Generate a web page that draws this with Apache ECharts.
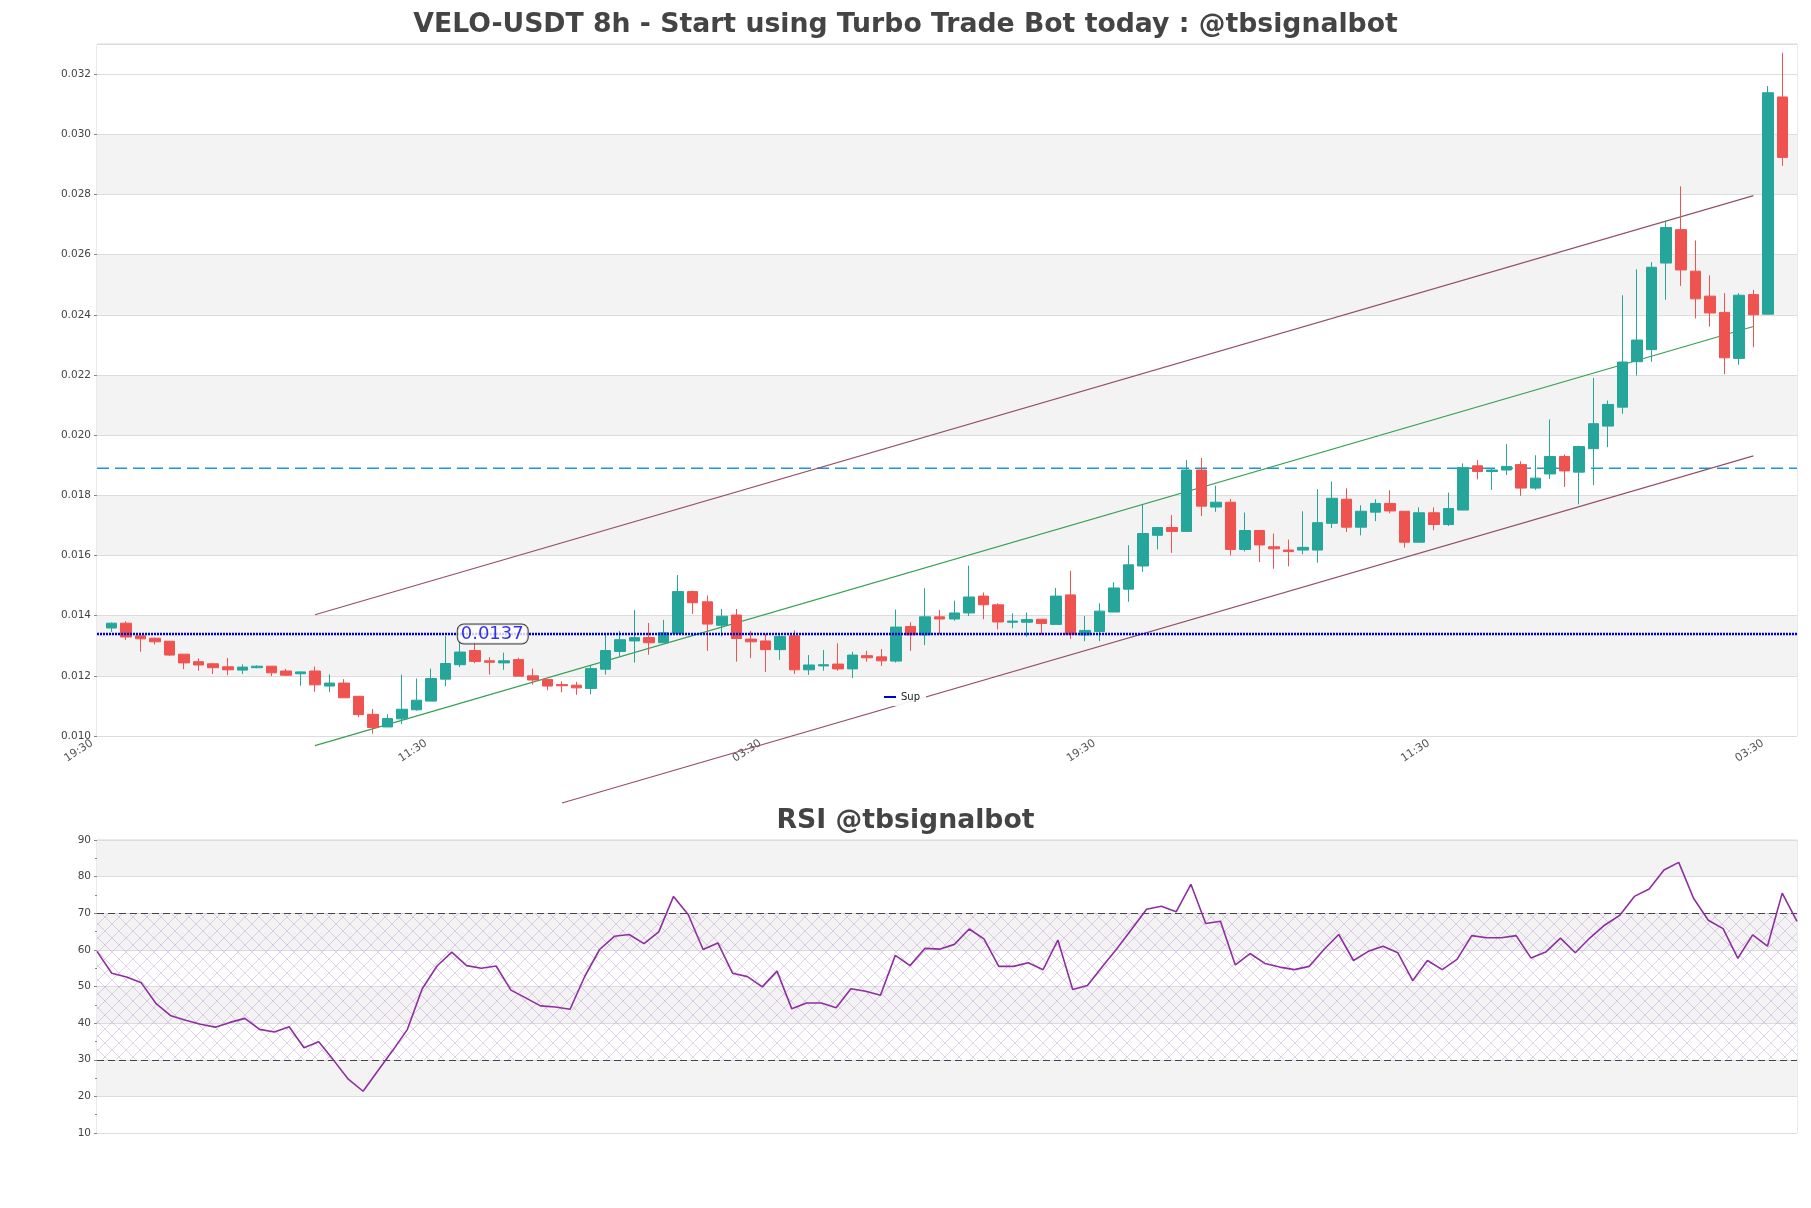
<!DOCTYPE html>
<html><head><meta charset="utf-8">
<script src="https://cdn.jsdelivr.net/npm/echarts@6/dist/echarts.min.js"></script>
<style>html,body{margin:0;padding:0;background:#fff}#chart{width:1811px;height:1208px}</style>
</head><body><div id="chart"></div>
<script>
// ---- data ----
const tickLabels = ['19:30', '11:30', '03:30', '19:30', '11:30', '03:30'];
const tickStep = 23; // candles between labelled ticks (first tick one slot before first candle)

const opens = [0.01359,0.01375,0.01333,0.01325,0.01315,0.01272,0.01247,0.0124,0.0123,0.01219,
0.01227,0.01232,0.01216,0.01207,0.01216,0.01166,0.01176,0.01132,0.01072,0.0103,
0.01057,0.01087,0.01116,0.01189,0.01237,0.01284,0.0125,0.01243,0.01254,0.012,
0.01188,0.01171,0.01169,0.01158,0.01222,0.01281,0.01316,0.01327,0.0131,0.01341,
0.0148,0.01446,0.01368,0.01402,0.01322,0.01316,0.01287,0.01333,0.0122,0.01233,
0.01239,0.01223,0.01267,0.01263,0.01249,0.01364,0.01336,0.01396,0.01389,0.01409,
0.01465,0.01436,0.01378,0.01378,0.01388,0.01371,0.01469,0.01336,0.01347,0.01412,
0.01488,0.01565,0.01667,0.01693,0.0168,0.01884,0.01761,0.01777,0.0162,0.01683,
0.01629,0.01618,0.01618,0.01618,0.01707,0.01787,0.01694,0.01744,0.01773,0.01747,
0.01644,0.01742,0.01703,0.01751,0.01898,0.01879,0.01884,0.01902,0.01824,0.01871,
0.01929,0.01877,0.01955,0.0203,0.02093,0.02244,0.02284,0.02572,0.02683,0.02545,
0.02462,0.02408,0.02255,0.02467,0.02402,0.03124];
const closes = [0.01375,0.01329,0.01323,0.01313,0.01269,0.01243,0.01236,0.01227,0.0122,0.01229,
0.01232,0.0121,0.01202,0.01213,0.0117,0.01176,0.01127,0.01071,0.01028,0.01058,
0.01089,0.01119,0.01191,0.01241,0.01279,0.01248,0.01245,0.0125,0.01199,0.01186,
0.01166,0.01167,0.0116,0.01224,0.01284,0.0132,0.01327,0.0131,0.01343,0.0148,
0.01443,0.01372,0.01398,0.01324,0.01313,0.01287,0.01331,0.0122,0.01236,0.01237,
0.01223,0.01269,0.0126,0.0125,0.01362,0.01336,0.01396,0.01389,0.01409,0.01462,
0.01436,0.01379,0.01382,0.01387,0.01374,0.01465,0.01337,0.01351,0.01415,0.01492,
0.01569,0.01673,0.01693,0.0168,0.01884,0.01764,0.01777,0.0162,0.01683,0.01635,
0.01622,0.01613,0.01627,0.01709,0.0179,0.01694,0.01747,0.01773,0.01748,0.01644,
0.01742,0.01703,0.01756,0.01892,0.01879,0.01884,0.01896,0.01824,0.01857,0.01929,
0.01881,0.01962,0.02038,0.02102,0.02243,0.02316,0.02558,0.0269,0.02549,0.02453,
0.02406,0.02257,0.02465,0.024,0.03138,0.02923];
const lows = [0.01346,0.01319,0.0128,0.01304,0.01266,0.01222,0.01217,0.01206,0.01202,0.01206,
0.01225,0.01199,0.012,0.01167,0.01147,0.01146,0.01127,0.01062,0.01008,0.0103,
0.0104,0.01084,0.01116,0.01166,0.01229,0.01242,0.01204,0.0122,0.01199,0.01171,
0.01152,0.01145,0.01137,0.01139,0.01204,0.01266,0.01244,0.0127,0.0131,0.01341,
0.01406,0.01283,0.01331,0.01247,0.01259,0.01213,0.01253,0.01206,0.01203,0.01217,
0.01217,0.01193,0.01247,0.01233,0.01244,0.01283,0.01302,0.01338,0.01383,0.01399,
0.01388,0.01354,0.01358,0.0133,0.01336,0.01371,0.01323,0.01315,0.01315,0.01412,
0.01446,0.01546,0.0162,0.01609,0.01678,0.01731,0.01745,0.016,0.01613,0.01578,
0.01556,0.01564,0.01604,0.01576,0.01691,0.01678,0.01667,0.01714,0.0174,0.01626,
0.01644,0.01684,0.01698,0.01751,0.01853,0.01818,0.01867,0.01798,0.01818,0.01854,
0.01828,0.0177,0.01834,0.0196,0.02071,0.02198,0.02244,0.0245,0.02496,0.02388,
0.02361,0.02203,0.02234,0.02292,0.02402,0.02895];
const highs = [0.01377,0.01381,0.01335,0.01327,0.01316,0.01272,0.01258,0.01242,0.01259,0.01238,
0.01235,0.01232,0.01223,0.01215,0.01231,0.01205,0.01189,0.01132,0.0109,0.01072,
0.01204,0.01191,0.01224,0.01332,0.01316,0.01314,0.01262,0.01277,0.0126,0.01224,
0.01188,0.01182,0.0118,0.01235,0.01336,0.01349,0.01419,0.01376,0.01386,0.01535,
0.01483,0.01467,0.01422,0.01422,0.01349,0.0134,0.01336,0.01351,0.01269,0.01286,
0.01308,0.0128,0.01284,0.01289,0.0142,0.01378,0.01491,0.01419,0.0145,0.01566,
0.01477,0.01441,0.01408,0.0141,0.01388,0.01492,0.01549,0.01399,0.01441,0.01511,
0.01634,0.0177,0.01695,0.01734,0.01917,0.01924,0.01832,0.01788,0.01743,0.01684,
0.01673,0.01653,0.01747,0.0182,0.01846,0.01823,0.01767,0.01787,0.01817,0.01747,
0.0176,0.0176,0.01809,0.01906,0.01917,0.01891,0.0197,0.01913,0.01933,0.02052,
0.01936,0.01965,0.0219,0.02115,0.02465,0.02551,0.02575,0.02713,0.02827,0.02647,
0.02531,0.02472,0.02472,0.02483,0.0316,0.03271];

const rsiValues = [59.6,53.6,52.6,51.0,45.3,42.0,40.8,39.7,38.9,40.2,
41.3,38.3,37.6,39.0,33.3,34.9,29.9,24.7,21.4,27.0,
32.5,38.3,49.4,55.6,59.4,55.7,55.0,55.6,49.0,46.9,
44.7,44.4,43.8,52.8,60.1,63.7,64.2,61.7,64.9,74.6,
69.6,60.1,61.9,53.6,52.7,49.9,54.2,43.9,45.5,45.5,
44.2,49.4,48.7,47.6,58.5,55.7,60.4,60.2,61.5,65.7,
63.0,55.5,55.5,56.5,54.6,62.7,49.2,50.3,55.4,60.4,
65.7,71.1,71.9,70.4,77.9,67.2,67.8,55.9,59.0,56.3,
55.3,54.6,55.5,60.1,64.2,57.1,59.6,61.0,59.2,51.6,
57.1,54.6,57.4,63.9,63.3,63.3,63.9,57.8,59.4,63.2,
59.2,63.3,66.8,69.4,74.6,76.6,81.8,83.9,74.1,68.1,
65.8,57.7,64.1,61.0,75.5,67.8];

const supLevel = 0.01339;
const supLabelText = '0.0137';
const supLabelCandle = 24;
const resLevel = 0.0189;
// channel lines: [candle index, price]
const channelUpper = [[14, 0.01403], [113, 0.02796]];
const channelMiddle = [[14, 0.00968], [113, 0.02361]];
const channelLower = [[31, 0.00777], [113, 0.01931]];
const rsiUpper = 70, rsiLower = 30;

// ---- build ----
const N = opens.length;
const nCat = N + 2; // one empty slot each side
const cats = [];
for (let i = 0; i < nCat; i++) cats.push(i % tickStep === 0 && tickLabels[i / tickStep] ? tickLabels[i / tickStep] : '');
const candleData = [['-','-','-','-']];
for (let k = 0; k < N; k++) candleData.push([opens[k], closes[k], lows[k], highs[k]]);
candleData.push(['-','-','-','-']);
const toCat = pts => pts.map(p => [p[0] + 1, p[1]]);
const rsiCats = rsiValues.map((_, i) => String(i));

function makeHatch() {
  const s = 14;
  const c = document.createElement('canvas');
  c.width = s; c.height = s;
  const g = c.getContext('2d');
  g.strokeStyle = 'rgba(180,140,205,0.5)';
  g.lineWidth = 0.8;
  g.beginPath();
  g.moveTo(0, 0); g.lineTo(s, s);
  g.moveTo(s, 0); g.lineTo(0, s);
  g.stroke();
  return c;
}

const FONT = 'DejaVu Sans';
const mainBands = [];
for (let i = 0; i < 12; i++) mainBands.push(i % 2 === 1 && i < 11 ? '#f3f3f3' : '#ffffff');

const chart = echarts.init(document.getElementById('chart'), null, {renderer: 'canvas'});
chart.setOption({
  animation: false,
  backgroundColor: '#ffffff',
  textStyle: {fontFamily: FONT},
  title: [
    {text: 'VELO-USDT 8h - Start using Turbo Trade Bot today : @tbsignalbot', left: 'center', top: 7,
     textStyle: {fontSize: 26.7, fontWeight: 'bold', color: '#444444', fontFamily: FONT}},
    {text: 'RSI @tbsignalbot', left: 'center', top: 803,
     textStyle: {fontSize: 26.7, fontWeight: 'bold', color: '#444444', fontFamily: FONT}}
  ],
  legend: {
    data: [{name: 'Sup', icon: 'rect'}],
    left: 878, top: 688,
    itemWidth: 12, itemHeight: 2, itemGap: 5,
    padding: [4, 6],
    backgroundColor: 'rgba(255,255,255,0.9)',
    textStyle: {fontSize: 10, color: '#222', fontFamily: FONT}
  },
  grid: [
    {left: 97, right: 14, top: 44, height: 692, show: true, borderColor: '#d6d6d6', borderWidth: 1, backgroundColor: 'transparent'},
    {left: 97, right: 14, top: 840, height: 293, show: true, borderColor: '#d6d6d6', borderWidth: 1, backgroundColor: 'transparent'}
  ],
  xAxis: [
    {type: 'category', gridIndex: 0, data: cats, boundaryGap: false,
     axisLine: {show: false},
     axisTick: {show: false},
     axisLabel: {interval: 0, rotate: 33, fontSize: 11, color: '#555', margin: 3, padding: [0, 6, 0, 0], fontFamily: FONT},
     splitLine: {show: false}},
    {type: 'category', gridIndex: 1, data: rsiCats, boundaryGap: false,
     axisLine: {show: false}, axisTick: {show: false}, axisLabel: {show: false}, splitLine: {show: false}}
  ],
  yAxis: [
    {type: 'value', gridIndex: 0, min: 0.010, max: 0.033, interval: 0.002, scale: true,
     axisLine: {show: false},
     axisTick: {show: true, length: 3, lineStyle: {color: '#888'}},
     axisLabel: {fontSize: 10.5, color: '#444', showMaxLabel: false, formatter: v => v.toFixed(3), fontFamily: FONT, margin: 6},
     splitLine: {show: true, lineStyle: {color: '#dcdcdc', width: 1}},
     splitArea: {show: true, areaStyle: {color: mainBands}}},
    {type: 'value', gridIndex: 1, min: 10, max: 90, interval: 10,
     axisLine: {show: false},
     axisTick: {show: true, length: 3, lineStyle: {color: '#888'}},
     minorTick: {show: true, splitNumber: 2, length: 2, lineStyle: {color: '#888'}},
     axisLabel: {fontSize: 10.5, color: '#444', fontFamily: FONT, margin: 6},
     splitLine: {show: true, lineStyle: {color: '#dcdcdc', width: 1}},
     splitArea: {show: true, areaStyle: {color: ['#ffffff', '#f3f3f3']}}}
  ],
  series: [
    {type: 'candlestick', name: 'VELO-USDT', xAxisIndex: 0, yAxisIndex: 0, data: candleData,
     barWidth: 11,
     itemStyle: {color: '#26a69a', color0: '#ef5350', borderColor: '#26a69a', borderColor0: '#ef5350', borderWidth: 1},
     z: 3},
    {type: 'line', name: 'Res', xAxisIndex: 0, yAxisIndex: 0, symbol: 'none',
     data: [[0, resLevel], [nCat - 1, resLevel]],
     lineStyle: {color: '#1e96d2', width: 1.3, type: [12, 6]}, z: 2, silent: true},
    {type: 'line', name: 'Sup', xAxisIndex: 0, yAxisIndex: 0, symbol: 'none',
     data: [[0, supLevel], [nCat - 1, supLevel]],
     itemStyle: {color: '#0000cd'},
     lineStyle: {color: '#0000cd', width: 2.6, type: [2, 1]}, z: 4, silent: true},
    {type: 'line', name: 'ChanUp', xAxisIndex: 0, yAxisIndex: 0, symbol: 'none', clip: false,
     data: toCat(channelUpper), lineStyle: {color: '#945068', width: 1.1}, z: 2, silent: true},
    {type: 'line', name: 'ChanMid', xAxisIndex: 0, yAxisIndex: 0, symbol: 'none', clip: false,
     data: toCat(channelMiddle), lineStyle: {color: '#35a055', width: 1.1}, z: 2, silent: true},
    {type: 'line', name: 'ChanLow', xAxisIndex: 0, yAxisIndex: 0, symbol: 'none', clip: false,
     data: toCat(channelLower), lineStyle: {color: '#945068', width: 1.1}, z: 2, silent: true},
    {type: 'scatter', name: 'SupLabel', xAxisIndex: 0, yAxisIndex: 0,
     data: [[supLabelCandle + 1, supLevel]], symbol: 'circle', symbolSize: 1,
     itemStyle: {color: 'rgba(0,0,0,0)'}, z: 6, silent: true,
     label: {show: true, position: 'right', distance: 0, offset: [-3, 0], formatter: supLabelText,
       fontSize: 18, color: '#0000dd', fontFamily: FONT,
       backgroundColor: '#ffffff', borderColor: '#111', borderWidth: 1, borderRadius: 6, padding: [1, 4, 0, 3]}},
    {type: 'line', name: 'RSI', xAxisIndex: 1, yAxisIndex: 1, symbol: 'none', data: rsiValues,
     lineStyle: {color: '#8e2ea0', width: 1.6}, z: 5,
     markArea: {silent: true, itemStyle: {color: {image: makeHatch(), repeat: 'repeat'}},
       data: [[{yAxis: rsiLower}, {yAxis: rsiUpper}]]},
     markLine: {silent: true, symbol: 'none', label: {show: false},
       lineStyle: {color: '#444', width: 1.2, type: [7, 4]},
       data: [{yAxis: rsiUpper}, {yAxis: rsiLower}]}}
  ]
});
</script></body></html>
